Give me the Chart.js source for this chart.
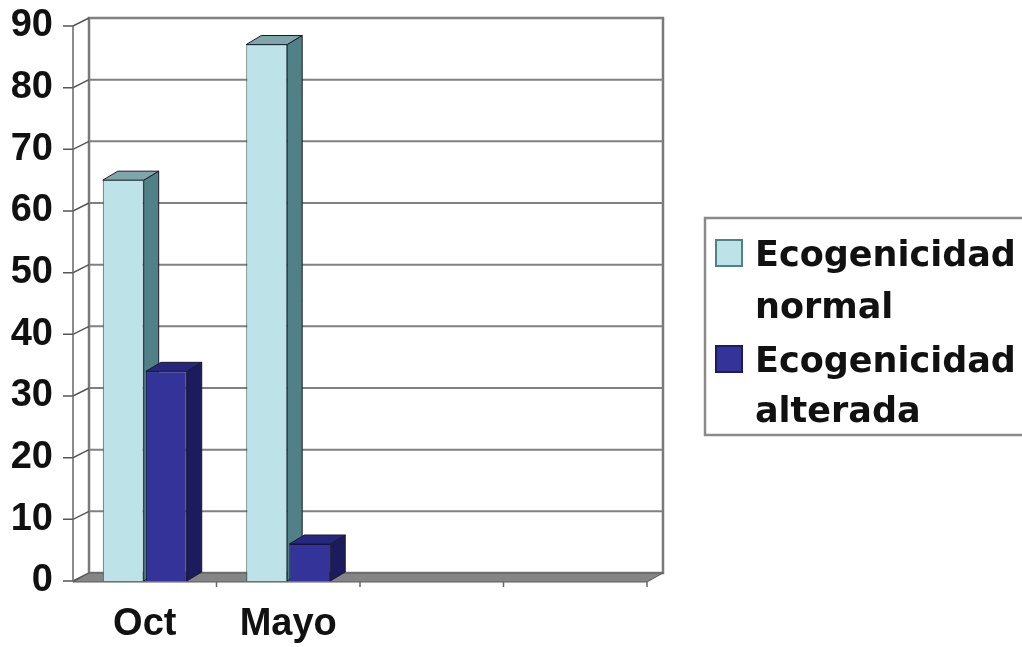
<!DOCTYPE html>
<html>
<head>
<meta charset="utf-8">
<script src="https://cdn.jsdelivr.net/npm/chart.js@4/dist/chart.umd.min.js"></script>
<style>
  html, body { margin: 0; padding: 0; background: #fff; }
  #wrap { width: 1022px; height: 647px; }
</style>
</head>
<body>
<div id="wrap"><canvas id="ecoChart" width="1022" height="647"></canvas></div>
<script>
// categories and series
const meses = ['Oct', 'Mayo', '', ''];
const normal = [65, 87, null, null];
const alterada = [34, 6, null, null];
const serieLabels = ['Ecogenicidad normal', 'Ecogenicidad alterada'];
const yTicks = [0, 10, 20, 30, 40, 50, 60, 70, 80, 90];

// colours: front, side, top
const colNormal = ['#bde3e8', '#4f8187', '#7fa6aa'];
const colAlterada = ['#333399', '#1b1b5e', '#272780'];

// depth of the walls and of the bars
const WALL_DX = 16, WALL_DY = -8;
const BAR_DX = 15, BAR_DY = -9;

function poly(ctx, pts, fill, stroke) {
    ctx.beginPath();
    ctx.moveTo(pts[0][0], pts[0][1]);
    for (let i = 1; i < pts.length; i++) ctx.lineTo(pts[i][0], pts[i][1]);
    ctx.closePath();
    if (fill) { ctx.fillStyle = fill; ctx.fill(); }
    if (stroke) { ctx.strokeStyle = stroke; ctx.lineWidth = 1; ctx.stroke(); }
}

const fakeDepth = {
    id: 'fakeDepth',
    beforeDatasetsDraw(chart) {
        const ctx = chart.ctx;
        const area = chart.chartArea;
        const y = chart.scales.y;
        const y0 = y.getPixelForValue(0);
        const yTop = y.getPixelForValue(90);
        ctx.save();

        // back wall
        ctx.fillStyle = '#fff';
        ctx.fillRect(area.left + WALL_DX, yTop + WALL_DY, area.right - area.left, y0 - yTop);
        ctx.strokeStyle = '#7a7a7a';
        ctx.lineWidth = 2.5;
        ctx.strokeRect(area.left + WALL_DX, yTop + WALL_DY, area.right - area.left, y0 - yTop);

        // grid lines on the wall, left wall edges and ticks
        ctx.lineWidth = 2;
        yTicks.forEach(v => {
            const py = y.getPixelForValue(v);
            ctx.strokeStyle = '#808080';
            ctx.beginPath();
            ctx.moveTo(area.left + WALL_DX, py + WALL_DY);
            ctx.lineTo(area.right + WALL_DX, py + WALL_DY);
            ctx.stroke();
            ctx.strokeStyle = '#555';
            ctx.lineWidth = 1.5;
            ctx.beginPath();
            ctx.moveTo(area.left - 10, py);
            ctx.lineTo(area.left, py);
            ctx.lineTo(area.left + WALL_DX, py + WALL_DY);
            ctx.stroke();
            ctx.lineWidth = 2;
        });
        ctx.strokeStyle = '#666';
        ctx.lineWidth = 1.5;
        ctx.beginPath();
        ctx.moveTo(area.left, yTop);
        ctx.lineTo(area.left, y0);
        ctx.stroke();

        // floor
        poly(ctx, [[area.left, y0 + 1], [area.right, y0 + 1],
                   [area.right + WALL_DX, y0 + WALL_DY], [area.left + WALL_DX, y0 + WALL_DY]],
             '#858585', '#5a5a5a');

        // category ticks under the floor
        ctx.strokeStyle = '#666';
        ctx.lineWidth = 1.5;
        const step = (area.right - area.left) / meses.length;
        for (let i = 1; i <= meses.length; i++) {
            const px = area.left + i * step;
            ctx.beginPath();
            ctx.moveTo(px, y0 + 1);
            ctx.lineTo(px, y0 + 6);
            ctx.stroke();
        }

        // side and top faces of each bar
        chart.data.datasets.forEach((ds, di) => {
            const meta = chart.getDatasetMeta(di);
            meta.data.forEach((bar, i) => {
                if (ds.data[i] == null) return;
                const x0 = bar.x - bar.width / 2;
                const x1 = bar.x + bar.width / 2;
                const top = bar.y;
                const base = bar.base;
                const c = ds.faces;
                poly(ctx, [[x1, top], [x1 + BAR_DX, top + BAR_DY],
                           [x1 + BAR_DX, base + BAR_DY], [x1, base]], c[1], '#1a1a2a');
                poly(ctx, [[x0, top], [x0 + BAR_DX, top + BAR_DY],
                           [x1 + BAR_DX, top + BAR_DY], [x1, top]], c[2], '#1a1a2a');
            });
        });
        ctx.restore();
    },
    afterDraw(chart) {
        // legend box with wrapped labels
        const ctx = chart.ctx;
        ctx.save();
        ctx.strokeStyle = '#8a8a8a';
        ctx.lineWidth = 2.5;
        ctx.strokeRect(705, 218, 340, 217);
        ctx.font = 'bold 35px "DejaVu Sans"';
        ctx.textBaseline = 'alphabetic';
        const baselines = [[266, 318], [372, 422]];
        chart.data.datasets.forEach((ds, di) => {
            const sy = baselines[di][0] - 26;
            ctx.fillStyle = ds.backgroundColor;
            ctx.fillRect(716, sy, 26, 26);
            ctx.strokeStyle = di === 0 ? '#4f8187' : '#1b1b5e';
            ctx.lineWidth = 2;
            ctx.strokeRect(716, sy, 26, 26);
            ctx.fillStyle = '#111';
            const words = ds.label.split(' ');
            words.forEach((w, li) => ctx.fillText(w, 755, baselines[di][li]));
        });
        ctx.restore();
    }
};

const ctx = document.getElementById('ecoChart').getContext('2d');
const ecoChart = new Chart(ctx, {
    type: 'bar',
    data: {
        labels: meses,
        datasets: [
            {
                label: serieLabels[0],
                data: normal,
                backgroundColor: colNormal[0],
                borderColor: '#2f4f55',
                borderWidth: 1,
                faces: colNormal
            },
            {
                label: serieLabels[1],
                data: alterada,
                backgroundColor: colAlterada[0],
                borderColor: '#14143f',
                borderWidth: 1,
                faces: colAlterada
            }
        ]
    },
    options: {
        responsive: false,
        animation: false,
        layout: {
            padding: { top: 26, right: 375, left: 0, bottom: 0 }
        },
        datasets: {
            bar: {
                categoryPercentage: 0.6,
                barPercentage: 0.95
            }
        },
        scales: {
            x: {
                grid: { display: false, drawTicks: false },
                border: { display: false },
                ticks: {
                    color: '#111',
                    padding: 21,
                    maxRotation: 0,
                    font: { family: '"Liberation Sans", Arial', size: 38, weight: 'bold' }
                },
                afterFit: function(scale) { scale.height = 66; }
            },
            y: {
                min: 0,
                max: 90,
                grid: { display: false, drawTicks: false },
                border: { display: false },
                ticks: {
                    stepSize: 10,
                    color: '#111',
                    padding: 20,
                    font: { family: '"Liberation Sans Narrow", "Liberation Sans", Arial', size: 38, weight: 'bold' }
                },
                afterFit: function(scale) {
                    scale.width = 73;
                    scale.paddingTop = 0;
                    scale.paddingBottom = 0;
                }
            }
        },
        plugins: {
            legend: { display: false },
            tooltip: { enabled: false }
        }
    },
    plugins: [fakeDepth]
});
</script>
</body>
</html>
